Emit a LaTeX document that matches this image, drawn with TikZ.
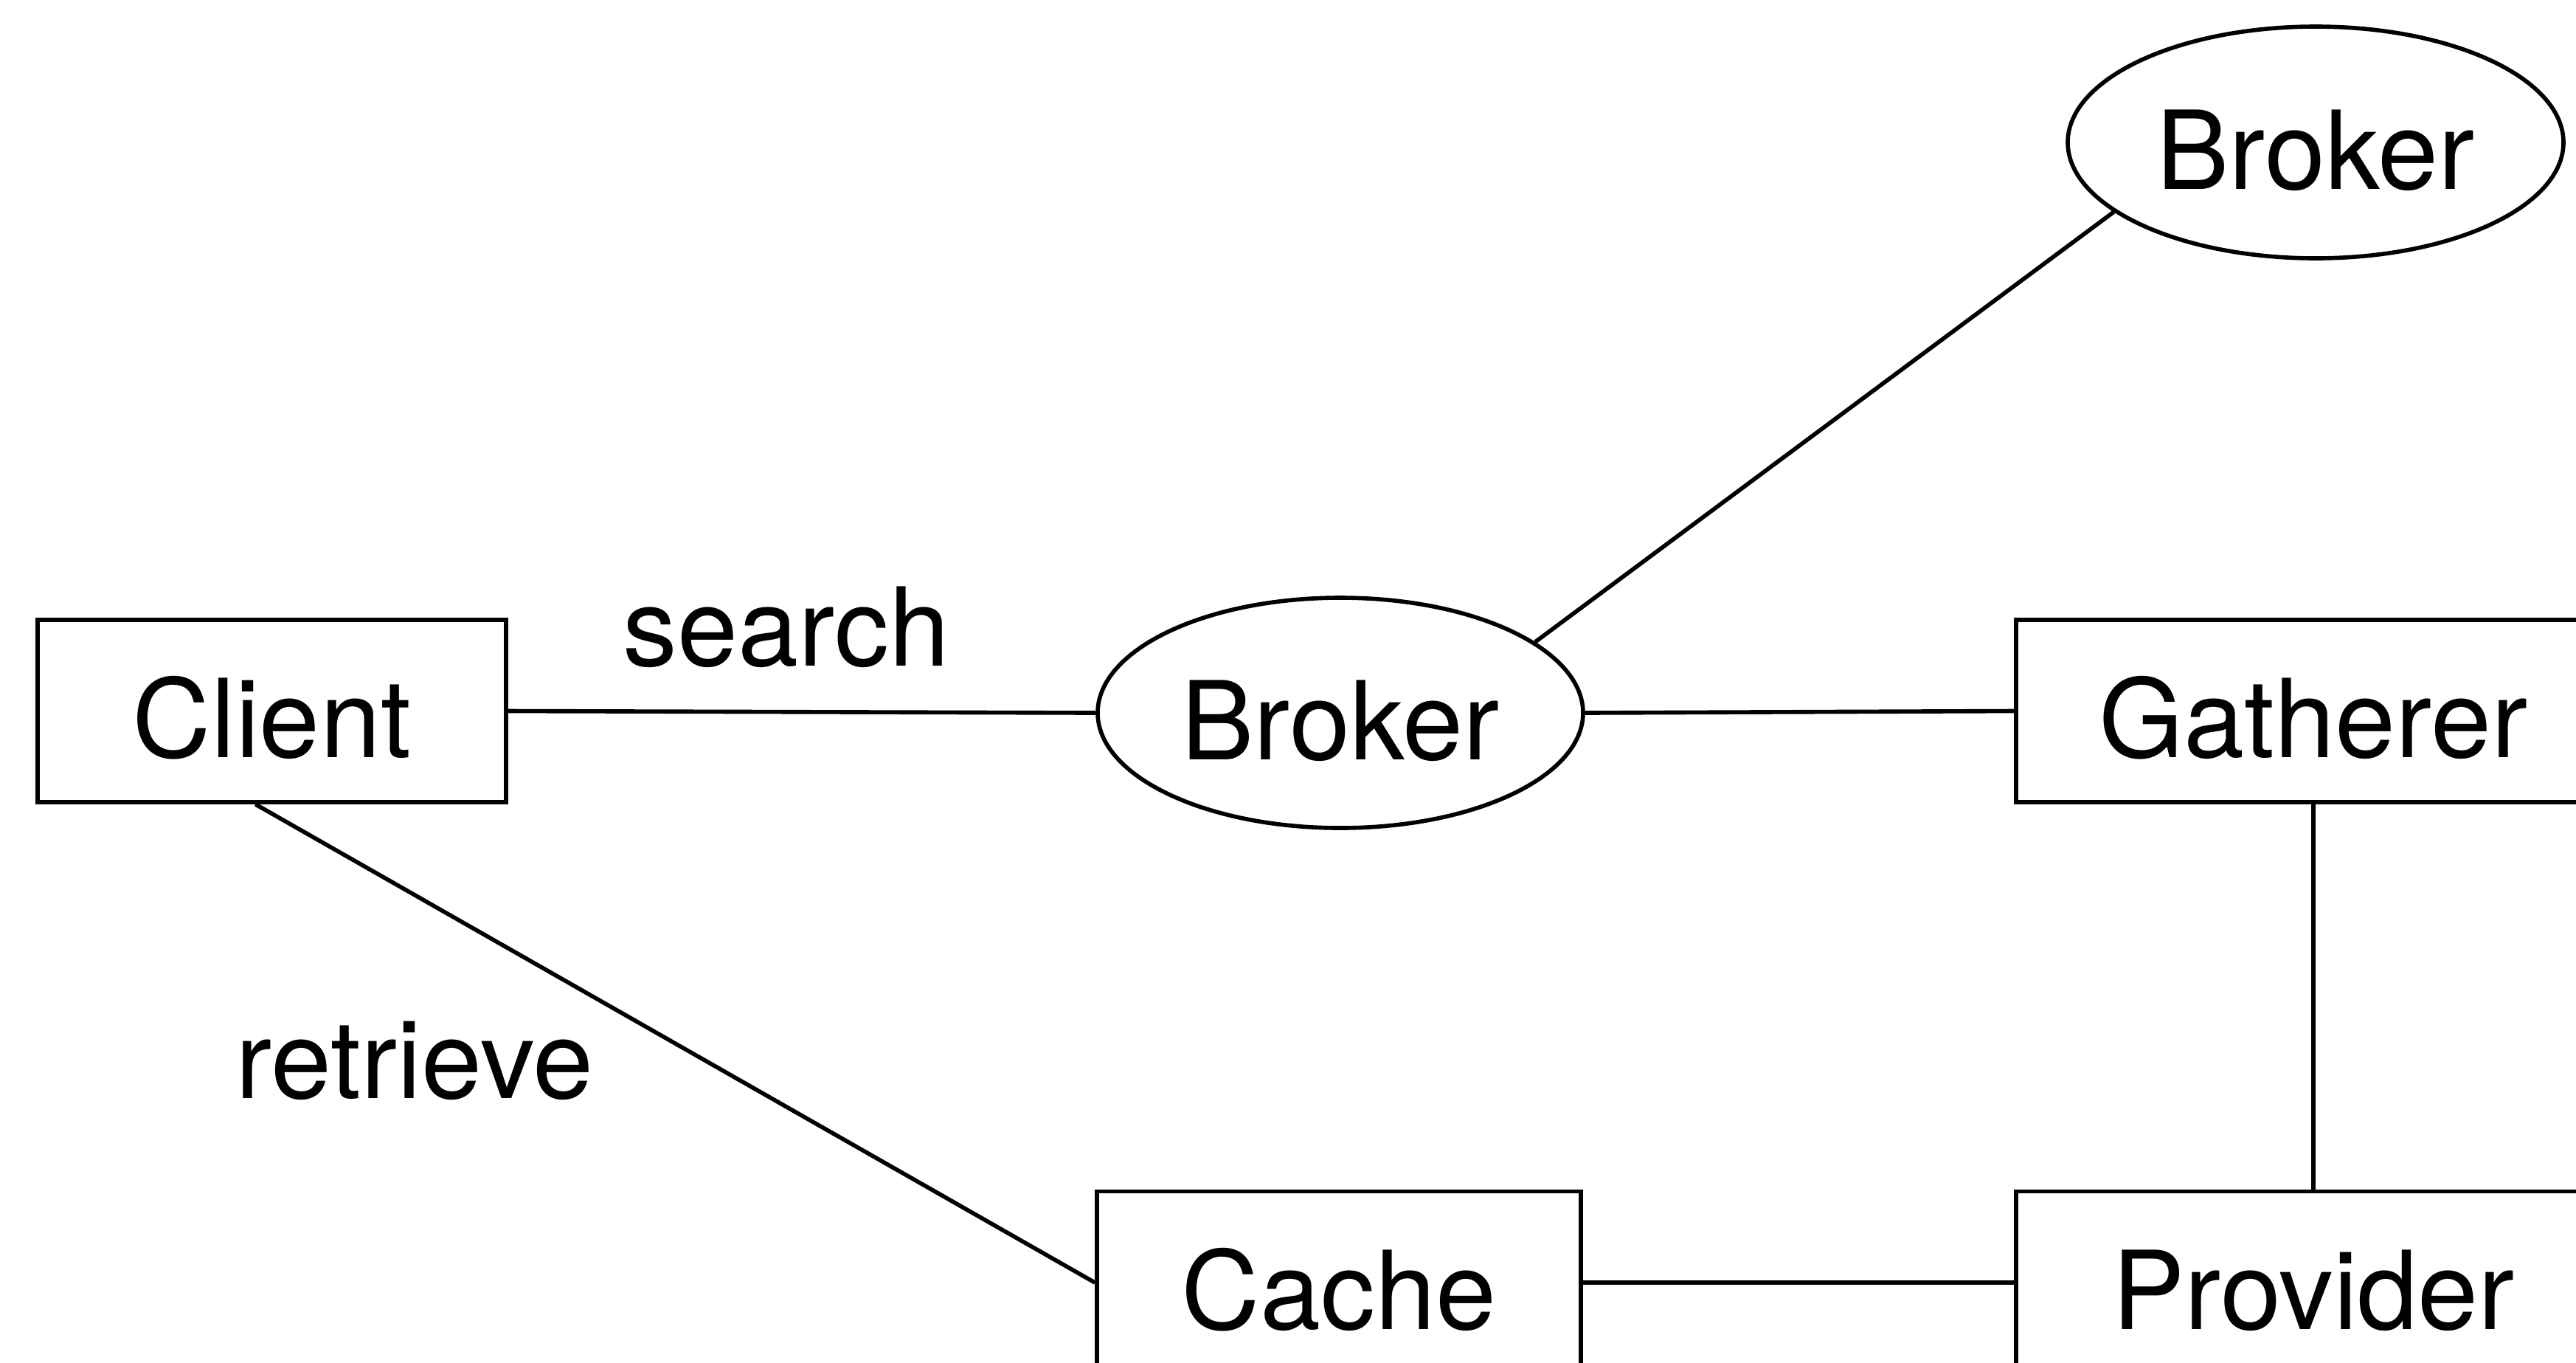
\documentclass[tikz,border=0pt]{standalone}
\usepackage{fontspec}
\setmainfont{TeX Gyre Heros}
\usetikzlibrary{shapes.geometric}
\begin{document}
\begin{tikzpicture}[
  every node/.style={font=\fontsize{42pt}{50pt}\selectfont},
  boxnode/.style={draw, line width=1.6pt, rectangle, minimum height=2.47cm, inner sep=0pt, text height=1.26cm, text depth=0cm},
  ovalnode/.style={draw, line width=1.6pt, ellipse, inner sep=0pt, text height=1.26cm, text depth=0cm},
  link/.style={line width=1.6pt},
  lbl/.style={anchor=base, inner sep=0pt}
]
\useasboundingbox (0,0) rectangle (34.92,-18.46);
\node[boxnode, minimum width=6.35cm] (client) at (3.685,-9.635) {Client};
\node[ovalnode, minimum width=6.58cm, minimum height=3.12cm] (mb) at (18.17,-9.66) {Broker};
\node[ovalnode, minimum width=6.72cm, minimum height=3.14cm] (tb) at (31.39,-1.93) {Broker};
\node[boxnode, minimum width=8.06cm] (gath) at (31.36,-9.635) {Gatherer};
\node[boxnode, minimum width=6.56cm] (cache) at (18.15,-17.38) {Cache};
\node[boxnode, minimum width=8.06cm] (prov) at (31.36,-17.38) {Provider};
\node[lbl] (search) at (10.66,-9.02) {search};
\node[lbl] (retrieve) at (5.62,-14.88) {retrieve};
\draw[link] (client.east) -- (mb.west);
\draw[link] (mb.east) -- (gath.west);
\draw[link] (mb.20) -- (tb.199.5);
\draw[link] (gath.south) -- (prov.north);
\draw[link] (cache.east) -- (prov.west);
\draw[link] (client.260.4) -- (cache.west);
\end{tikzpicture}
\end{document}
